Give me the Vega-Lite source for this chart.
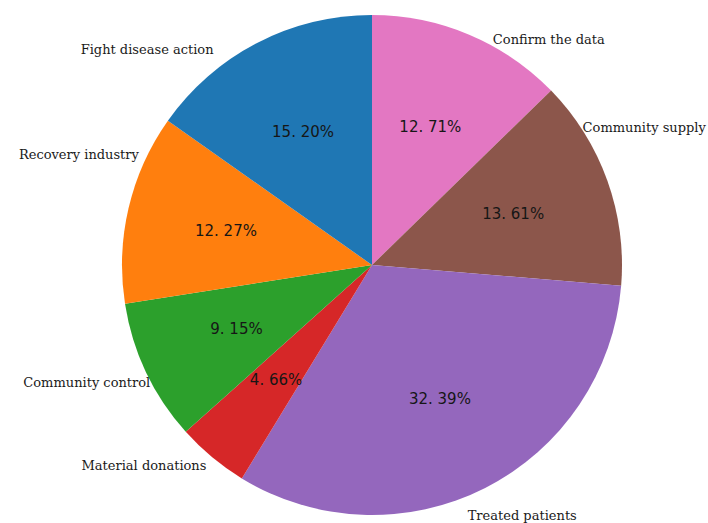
{
  "$schema": "https://vega.github.io/schema/vega-lite/v6.json",
  "width": 672,
  "height": 516,
  "autosize": {"type": "none"},
  "padding": {"left": 36, "top": 7, "right": 0, "bottom": 0},
  "background": "white",
  "config": {"view": {"stroke": null}},
  "data": {
    "values": [
      {"k": 1, "name": "Confirm the data", "value": 12.71, "pct": "12. 71%"},
      {"k": 2, "name": "Community supply", "value": 13.61, "pct": "13. 61%"},
      {"k": 3, "name": "Treated patients", "value": 32.39, "pct": "32. 39%"},
      {"k": 4, "name": "Material donations", "value": 4.66, "pct": "4. 66%"},
      {"k": 5, "name": "Community control", "value": 9.15, "pct": "9. 15%"},
      {"k": 6, "name": "Recovery industry", "value": 12.27, "pct": "12. 27%"},
      {"k": 7, "name": "Fight disease action", "value": 15.2, "pct": "15. 20%"}
    ]
  },
  "transform": [
    {"stack": "value", "groupby": [], "sort": [{"field": "k", "order": "ascending"}], "as": ["v0", "v1"]},
    {"calculate": "(datum.v0 + datum.v1) / 2", "as": "mid"}
  ],
  "layer": [
    {
      "mark": {"type": "arc", "outerRadius": 250, "stroke": null},
      "encoding": {
        "theta": {"field": "v0", "type": "quantitative", "scale": {"domain": [0, 99.99], "zero": true}},
        "theta2": {"field": "v1"},
        "color": {
          "field": "name",
          "type": "nominal",
          "legend": null,
          "scale": {
            "domain": ["Fight disease action", "Recovery industry", "Community control", "Material donations", "Treated patients", "Community supply", "Confirm the data"],
            "range": ["#1f77b4", "#ff7f0e", "#2ca02c", "#d62728", "#9467bd", "#8c564b", "#e377c2"]
          }
        }
      }
    },
    {
      "mark": {"type": "text", "radius": 150, "font": "DejaVu Sans", "fontSize": 15, "color": "#161616", "align": "center", "baseline": "middle"},
      "encoding": {
        "theta": {"field": "mid", "type": "quantitative"},
        "text": {"field": "pct"}
      }
    },
    {
      "transform": [{"filter": "datum.name === 'Confirm the data'"}],
      "mark": {"type": "text", "radius": 262, "font": "DejaVu Serif", "fontSize": 13, "color": "#1a1a1a", "align": "left", "baseline": "middle", "dx": 19, "dy": 16},
      "encoding": {"theta": {"field": "mid", "type": "quantitative"}, "text": {"field": "name"}}
    },
    {
      "transform": [{"filter": "datum.name === 'Community supply'"}],
      "mark": {"type": "text", "radius": 262, "font": "DejaVu Serif", "fontSize": 13, "color": "#1a1a1a", "align": "left", "baseline": "middle", "dx": -36, "dy": -49},
      "encoding": {"theta": {"field": "mid", "type": "quantitative"}, "text": {"field": "name"}}
    },
    {
      "transform": [{"filter": "datum.name === 'Treated patients'"}],
      "mark": {"type": "text", "radius": 262, "font": "DejaVu Serif", "fontSize": 13, "color": "#1a1a1a", "align": "left", "baseline": "middle", "dx": -23, "dy": 17},
      "encoding": {"theta": {"field": "mid", "type": "quantitative"}, "text": {"field": "name"}}
    },
    {
      "transform": [{"filter": "datum.name === 'Material donations'"}],
      "mark": {"type": "text", "radius": 262, "font": "DejaVu Serif", "fontSize": 13, "color": "#1a1a1a", "align": "right", "baseline": "middle", "dx": 2, "dy": 0},
      "encoding": {"theta": {"field": "mid", "type": "quantitative"}, "text": {"field": "name"}}
    },
    {
      "transform": [{"filter": "datum.name === 'Community control'"}],
      "mark": {"type": "text", "radius": 262, "font": "DejaVu Serif", "fontSize": 13, "color": "#1a1a1a", "align": "right", "baseline": "middle", "dx": 15, "dy": 6},
      "encoding": {"theta": {"field": "mid", "type": "quantitative"}, "text": {"field": "name"}}
    },
    {
      "transform": [{"filter": "datum.name === 'Recovery industry'"}],
      "mark": {"type": "text", "radius": 262, "font": "DejaVu Serif", "fontSize": 13, "color": "#1a1a1a", "align": "right", "baseline": "middle", "dx": 22, "dy": -50},
      "encoding": {"theta": {"field": "mid", "type": "quantitative"}, "text": {"field": "name"}}
    },
    {
      "transform": [{"filter": "datum.name === 'Fight disease action'"}],
      "mark": {"type": "text", "radius": 262, "font": "DejaVu Serif", "fontSize": 13, "color": "#1a1a1a", "align": "right", "baseline": "middle", "dx": -38, "dy": 18},
      "encoding": {"theta": {"field": "mid", "type": "quantitative"}, "text": {"field": "name"}}
    }
  ]
}
